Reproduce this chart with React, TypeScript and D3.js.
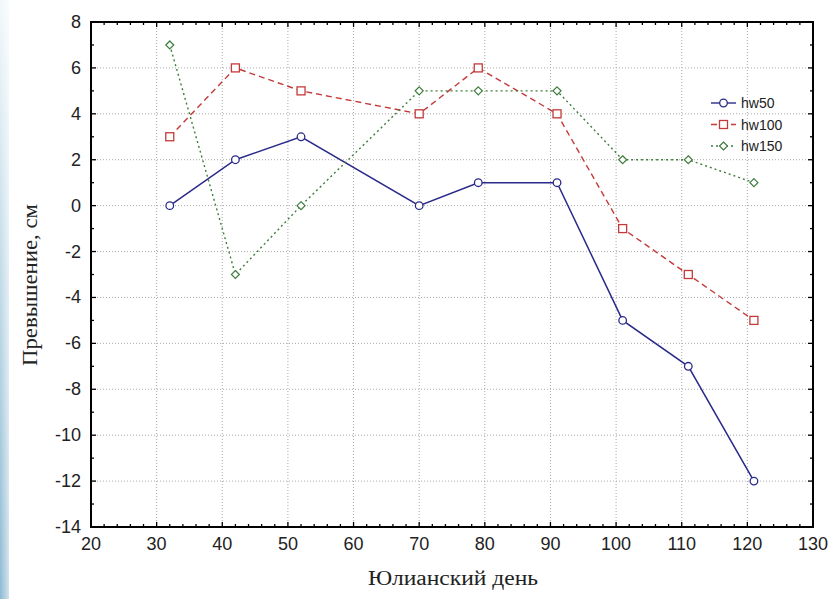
import React from "react";
import * as d3 from "d3";

const days = [32, 42, 52, 70, 79, 91, 101, 111, 121];
const hw50 = [0, 2, 3, 0, 1, 1, -5, -7, -12];
const hw100 = [3, 6, 5, 4, 6, 4, -1, -3, -5];
const hw150 = [7, -3, 0, 5, 5, 5, 2, 2, 1];
const seriesNames = ["hw50", "hw100", "hw150"];
const xTicks = [20, 30, 40, 50, 60, 70, 80, 90, 100, 110, 120, 130];
const yTicks = [8, 6, 4, 2, 0, -2, -4, -6, -8, -10, -12, -14];
const xLabel = "Юлианский день";
const yLabel = "Превышение, см";

const W = 834, H = 599;
const L = 91, R = 813, T = 22, B = 527;

export default function App() {
  const x = d3.scaleLinear().domain([20, 130]).range([L, R]);
  const y = d3.scaleLinear().domain([-14, 8]).range([B, T]);
  const line = d3.line<[number, number]>().x(d => x(d[0])).y(d => y(d[1]));
  const datasets = [hw50, hw100, hw150];
  const colors = ["#2a2a8a", "#c43a3a", "#3d7d3d"];
  const dashes = [undefined, "6,4", "2,3"];
  const minorX = d3.range(20, 131, 2);
  const minorY = d3.range(-14, 9, 1);

  const marker = (k: number, cx: number, cy: number, key: string) => {
    const c = colors[k];
    if (k === 0) return <circle key={key} cx={cx} cy={cy} r={3.8} fill="white" stroke={c} strokeWidth={1.3} />;
    if (k === 1) return <rect key={key} x={cx - 4} y={cy - 4} width={8} height={8} fill="white" stroke={c} strokeWidth={1.3} />;
    return <path key={key} d={`M${cx},${cy - 4}L${cx + 4},${cy}L${cx},${cy + 4}L${cx - 4},${cy}Z`} fill="white" stroke={c} strokeWidth={1.2} />;
  };

  return (
    <svg width={W} height={H} style={{ position: "absolute", left: 0, top: 0 }}>
      <defs>
        <linearGradient id="strip" x1="0" y1="0" x2="0" y2="1">
          <stop offset="0" stopColor="#f2f8fb" />
          <stop offset="0.4" stopColor="#c6deea" />
          <stop offset="1" stopColor="#8db9d2" />
        </linearGradient>
        <linearGradient id="stripH" x1="0" y1="0" x2="1" y2="0">
          <stop offset="0" stopColor="white" stopOpacity="0" />
          <stop offset="1" stopColor="white" stopOpacity="0.6" />
        </linearGradient>
      </defs>
      <rect x={0} y={0} width={W} height={H} fill="white" />
      <rect x={0} y={0} width={9} height={H} fill="url(#strip)" />
      <rect x={0} y={0} width={9} height={H} fill="url(#stripH)" />
      {/* grid */}
      {xTicks.slice(1, -1).map(t => (
        <line key={"gx" + t} x1={x(t)} x2={x(t)} y1={T} y2={B} stroke="#aaa" strokeWidth={1} strokeDasharray="1,2" />
      ))}
      {yTicks.slice(1, -1).map(t => (
        <line key={"gy" + t} x1={L} x2={R} y1={y(t)} y2={y(t)} stroke="#aaa" strokeWidth={1} strokeDasharray="1,2" />
      ))}
      {/* minor/major ticks inward on all sides */}
      {minorX.map(t => {
        const len = t % 10 === 0 ? 5 : 3;
        return (
          <g key={"tx" + t}>
            <line x1={x(t)} x2={x(t)} y1={B} y2={B - len} stroke="#000" strokeWidth={1.3} />
            <line x1={x(t)} x2={x(t)} y1={T} y2={T + len} stroke="#000" strokeWidth={1.3} />
          </g>
        );
      })}
      {minorY.map(t => {
        const len = t % 2 === 0 ? 5 : 3;
        return (
          <g key={"ty" + t}>
            <line x1={L} x2={L + len} y1={y(t)} y2={y(t)} stroke="#000" strokeWidth={1.3} />
            <line x1={R} x2={R - len} y1={y(t)} y2={y(t)} stroke="#000" strokeWidth={1.3} />
          </g>
        );
      })}
      <rect x={L} y={T} width={R - L} height={B - T} fill="none" stroke="#000" strokeWidth={2} />
      {/* tick labels */}
      {xTicks.map(t => (
        <text key={"lx" + t} x={x(t)} y={B + 23} textAnchor="middle" fontFamily="Liberation Sans, Arial, sans-serif" fontSize={18} fill="#222">{t}</text>
      ))}
      {yTicks.map(t => (
        <text key={"ly" + t} x={L - 10} y={y(t) + 6} textAnchor="end" fontFamily="Liberation Sans, Arial, sans-serif" fontSize={18} fill="#222">{t}</text>
      ))}
      <text x={453} y={585} textAnchor="middle" fontFamily="Liberation Serif, Times New Roman, serif" fontSize={20} textLength={170} lengthAdjust="spacingAndGlyphs" fill="#222">{xLabel}</text>
      <text transform={`translate(37,285) rotate(-90)`} textAnchor="middle" fontFamily="Liberation Serif, Times New Roman, serif" fontSize={20} textLength={162} lengthAdjust="spacingAndGlyphs" fill="#222">{yLabel}</text>
      {/* series */}
      {datasets.map((ds, k) => {
        const pts = days.map((d, i) => [d, ds[i]] as [number, number]);
        return (
          <g key={"s" + k}>
            <path d={line(pts) || ""} fill="none" stroke={colors[k]} strokeWidth={k === 0 ? 1.5 : 1.4} strokeDasharray={dashes[k]} />
            {pts.map((p, i) => marker(k, x(p[0]), y(p[1]), `m${k}-${i}`))}
          </g>
        );
      })}
      {/* legend */}
      {seriesNames.map((n, k) => {
        const ly = 103 + k * 21.5;
        return (
          <g key={"lg" + n}>
            <line x1={711} x2={736} y1={ly} y2={ly} stroke={colors[k]} strokeWidth={1.4} strokeDasharray={dashes[k]} />
            {marker(k, 723.5, ly, "lm" + k)}
            <text x={741} y={ly + 5} fontFamily="Liberation Sans, Arial, sans-serif" fontSize={14} fill="#222">{n}</text>
          </g>
        );
      })}
    </svg>
  );
}
